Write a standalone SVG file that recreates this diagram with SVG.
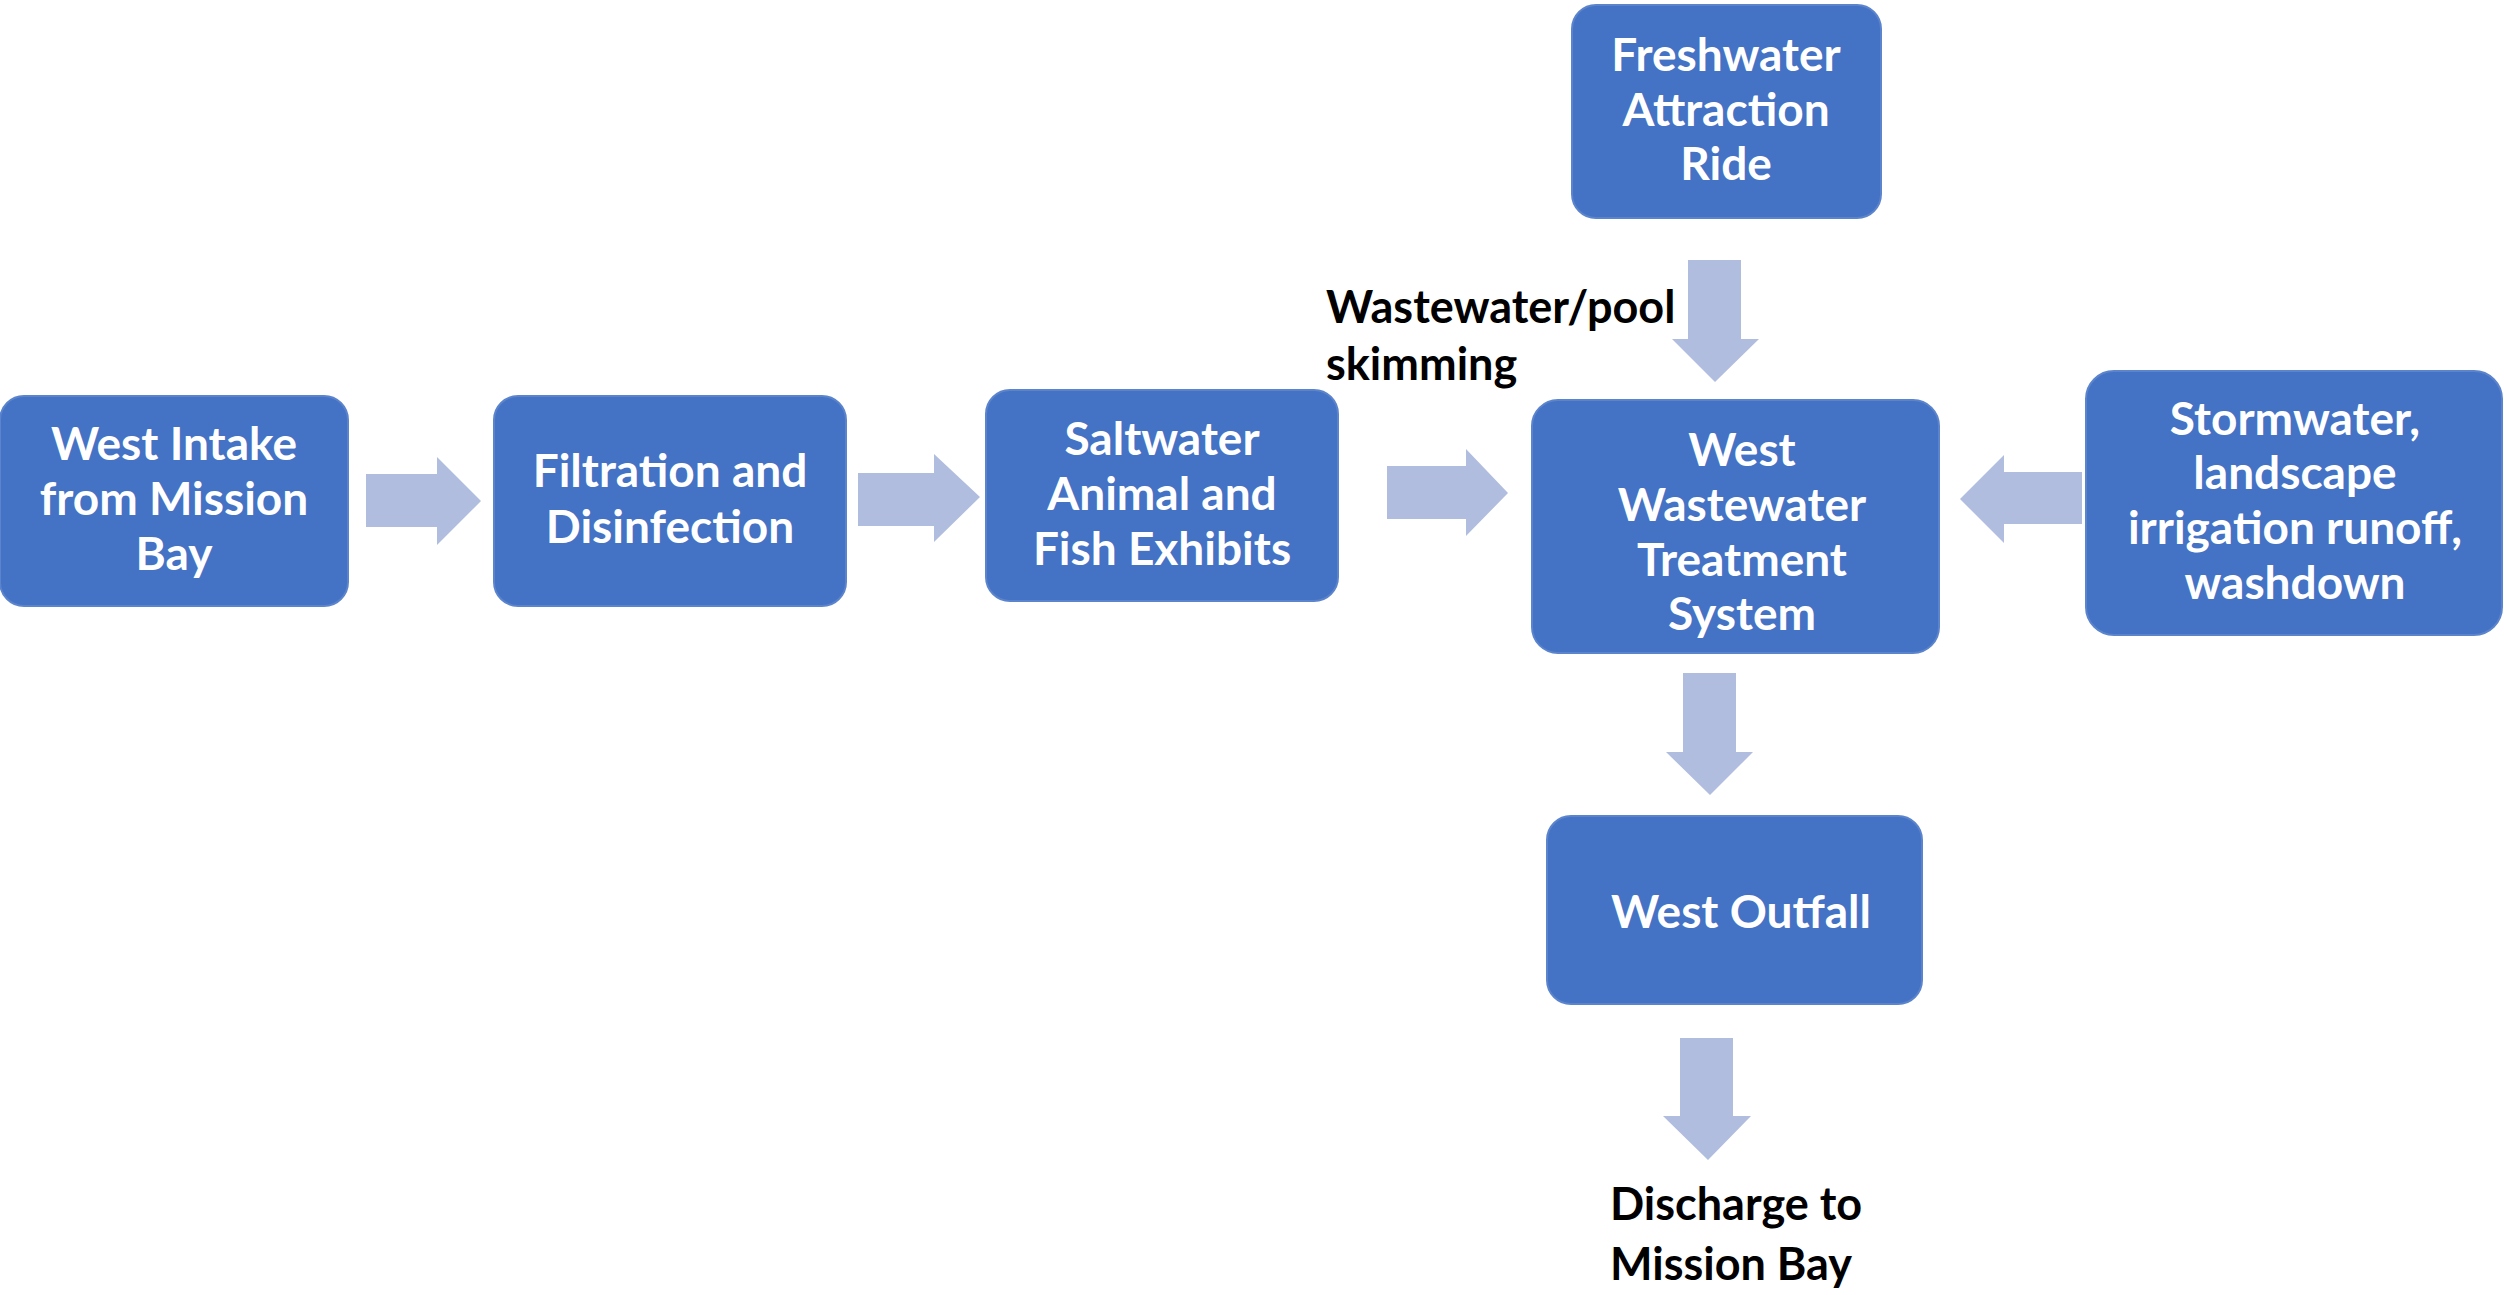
<svg xmlns="http://www.w3.org/2000/svg" width="2504" height="1295" viewBox="0 0 2504 1295">
<style>
.box{fill:#4472C4;stroke:#5B84CC;stroke-width:2}
.arr{fill:#B0BDDF}
.t{font-family:Lato,"Liberation Sans",sans-serif;font-weight:bold;font-size:46px;fill:#fff;text-anchor:middle}
.lbl{font-family:Lato,"Liberation Sans",sans-serif;font-weight:bold;font-size:45px;fill:#000}
</style>
<rect width="2504" height="1295" fill="#fff"/>
<g id="connectors">
<polygon class="arr" points="366,474 437,474 437,457 481,501 437,545 437,527 366,527"/>
<polygon class="arr" points="858,473 934,473 934,454 980,497 934,542 934,526 858,526"/>
<polygon class="arr" points="1387,466 1466,466 1466,449 1508,493 1466,536 1466,519 1387,519"/>
<polygon class="arr" points="1688,260 1741,260 1741,339 1759,339 1715,382 1672,339 1688,339"/>
<polygon class="arr" points="2082,472 2004,472 2004,455 1960,499 2004,543 2004,524 2082,524"/>
<polygon class="arr" points="1683,673 1736,673 1736,752 1753,752 1710,795 1666,752 1683,752"/>
<polygon class="arr" points="1680,1038 1733,1038 1733,1116 1751,1116 1708,1160 1663,1116 1680,1116"/>
</g>
<g id="west-intake">
<rect class="box" x="0" y="396" width="348" height="210" rx="24"/>
<text class="t" x="174" y="460">West Intake</text>
<text class="t" x="174" y="515">from Mission</text>
<text class="t" x="174" y="570">Bay</text>
</g>
<g id="filtration">
<rect class="box" x="494" y="396" width="352" height="210" rx="24"/>
<text class="t" x="670" y="487">Filtration and</text>
<text class="t" x="670" y="543">Disinfection</text>
</g>
<g id="saltwater">
<rect class="box" x="986" y="390" width="352" height="211" rx="24"/>
<text class="t" x="1162" y="455">Saltwater</text>
<text class="t" x="1162" y="510">Animal and</text>
<text class="t" x="1162" y="565">Fish Exhibits</text>
</g>
<g id="freshwater">
<rect class="box" x="1572" y="5" width="309" height="213" rx="24"/>
<text class="t" x="1726" y="71">Freshwater</text>
<text class="t" x="1726" y="126">Attraction</text>
<text class="t" x="1726" y="180">Ride</text>
</g>
<g id="west-wts">
<rect class="box" x="1532" y="400" width="407" height="253" rx="26"/>
<text class="t" x="1742" y="466">West</text>
<text class="t" x="1742" y="521">Wastewater</text>
<text class="t" x="1742" y="576">Treatment</text>
<text class="t" x="1742" y="630">System</text>
</g>
<g id="stormwater">
<rect class="box" x="2086" y="371" width="416" height="264" rx="28"/>
<text class="t" x="2295" y="435">Stormwater,</text>
<text class="t" x="2295" y="489">landscape</text>
<text class="t" x="2295" y="544">irrigation runoff,</text>
<text class="t" x="2295" y="599">washdown</text>
</g>
<g id="west-outfall">
<rect class="box" x="1547" y="816" width="375" height="188" rx="24"/>
<text class="t" x="1741" y="928">West Outfall</text>
</g>
<g id="label-wastewater">
<text class="lbl" x="1326" y="323">Wastewater/pool</text>
<text class="lbl" x="1326" y="380">skimming</text>
</g>
<g id="discharge">
<text class="lbl" x="1610" y="1220">Discharge to</text>
<text class="lbl" x="1610" y="1280">Mission Bay</text>
</g>
</svg>
